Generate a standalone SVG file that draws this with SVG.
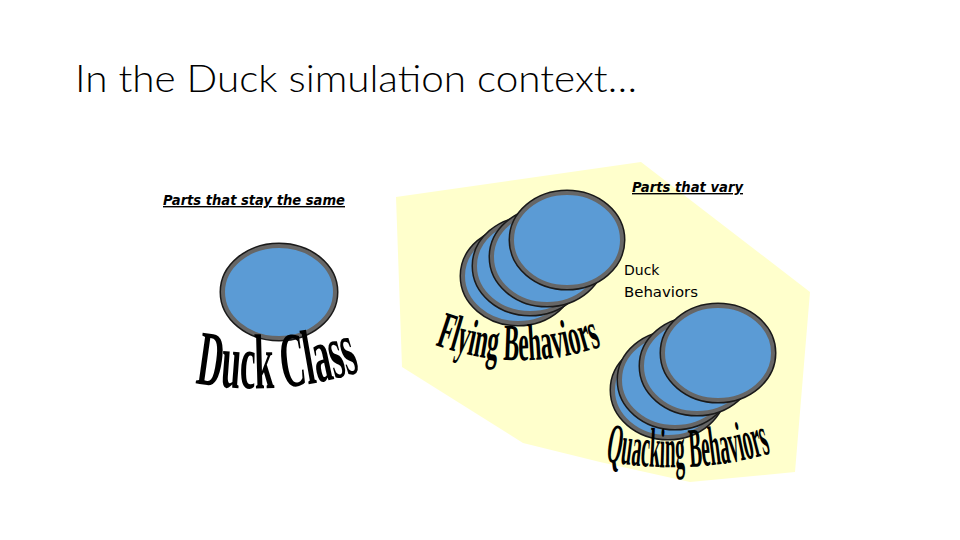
<svg xmlns="http://www.w3.org/2000/svg" xmlns:xlink="http://www.w3.org/1999/xlink" width="960" height="540" viewBox="0 0 960 540">
<style>
.title{font-family:"Lato","Liberation Sans",sans-serif;font-size:38px;font-weight:300;fill:#000}
.lab{font-family:"DejaVu Sans","Liberation Sans",sans-serif;font-size:14px;font-weight:bold;font-style:italic;text-decoration:underline;fill:#000}
.small{font-family:"DejaVu Sans","Liberation Sans",sans-serif;font-size:14px;fill:#000}
.wa{font-family:"Liberation Serif",serif;font-weight:bold;fill:#000}
.dk{fill:#5B9BD5;stroke:#1a1a1a;stroke-width:7}
.dg{fill:#5B9BD5;stroke:#666;stroke-width:4}
</style>
<defs>
<g id="disk">
<ellipse class="dk" cx="0" cy="0" rx="55" ry="47"/>
<ellipse class="dg" cx="0" cy="0" rx="55" ry="47"/>
</g>
<path id="pDuck" d="M195,383 Q280,398 362,371"/>
<path id="pFly" d="M435,345 Q518,375 603,346"/>
<path id="pQuack" d="M605,461 Q690,477 772,453"/>
</defs>
<rect width="960" height="540" fill="#fff"/>
<text class="title" x="75" y="92" textLength="562" lengthAdjust="spacingAndGlyphs">In the Duck simulation context…</text>

<g id="variesArea">
<polygon points="396,197 641,162 810,292 795,472 690,482 600,462 523,443 402,367" fill="#FFFFCC"/>
</g>

<g id="stayLabel"><text class="lab" x="163" y="205" textLength="182" lengthAdjust="spacingAndGlyphs">Parts that stay the same</text></g>
<g id="varyLabel"><text class="lab" x="632" y="192" textLength="111" lengthAdjust="spacingAndGlyphs">Parts that vary</text></g>
<g id="duckBehaviors">
<text class="small" x="624" y="275">Duck</text>
<text class="small" x="624" y="297" textLength="74" lengthAdjust="spacingAndGlyphs">Behaviors</text>
</g>

<g id="duckClass">
<ellipse class="dk" cx="279" cy="292" rx="56" ry="46"/>
<ellipse class="dg" cx="279" cy="292" rx="56" ry="46"/>
<text class="wa" font-size="78"><textPath xlink:href="#pDuck" href="#pDuck" textLength="168" lengthAdjust="spacingAndGlyphs">Duck Class</textPath></text>
</g>

<g id="flyingBehaviors">
<use href="#disk" xlink:href="#disk" transform="translate(518,276)"/>
<use href="#disk" xlink:href="#disk" transform="translate(530,266)"/>
<use href="#disk" xlink:href="#disk" transform="translate(547,257)"/>
<use href="#disk" xlink:href="#disk" transform="translate(567,240)"/>
<text class="wa" font-size="52"><textPath xlink:href="#pFly" href="#pFly" textLength="170" lengthAdjust="spacingAndGlyphs">Flying Behaviors</textPath></text>
</g>

<g id="quackingBehaviors">
<use href="#disk" xlink:href="#disk" transform="translate(668,390)"/>
<use href="#disk" xlink:href="#disk" transform="translate(675,380)"/>
<use href="#disk" xlink:href="#disk" transform="translate(697,366)"/>
<use href="#disk" xlink:href="#disk" transform="translate(718,353)"/>
<text class="wa" font-size="56"><textPath xlink:href="#pQuack" href="#pQuack" textLength="168" lengthAdjust="spacingAndGlyphs">Quacking Behaviors</textPath></text>
</g>
</svg>
